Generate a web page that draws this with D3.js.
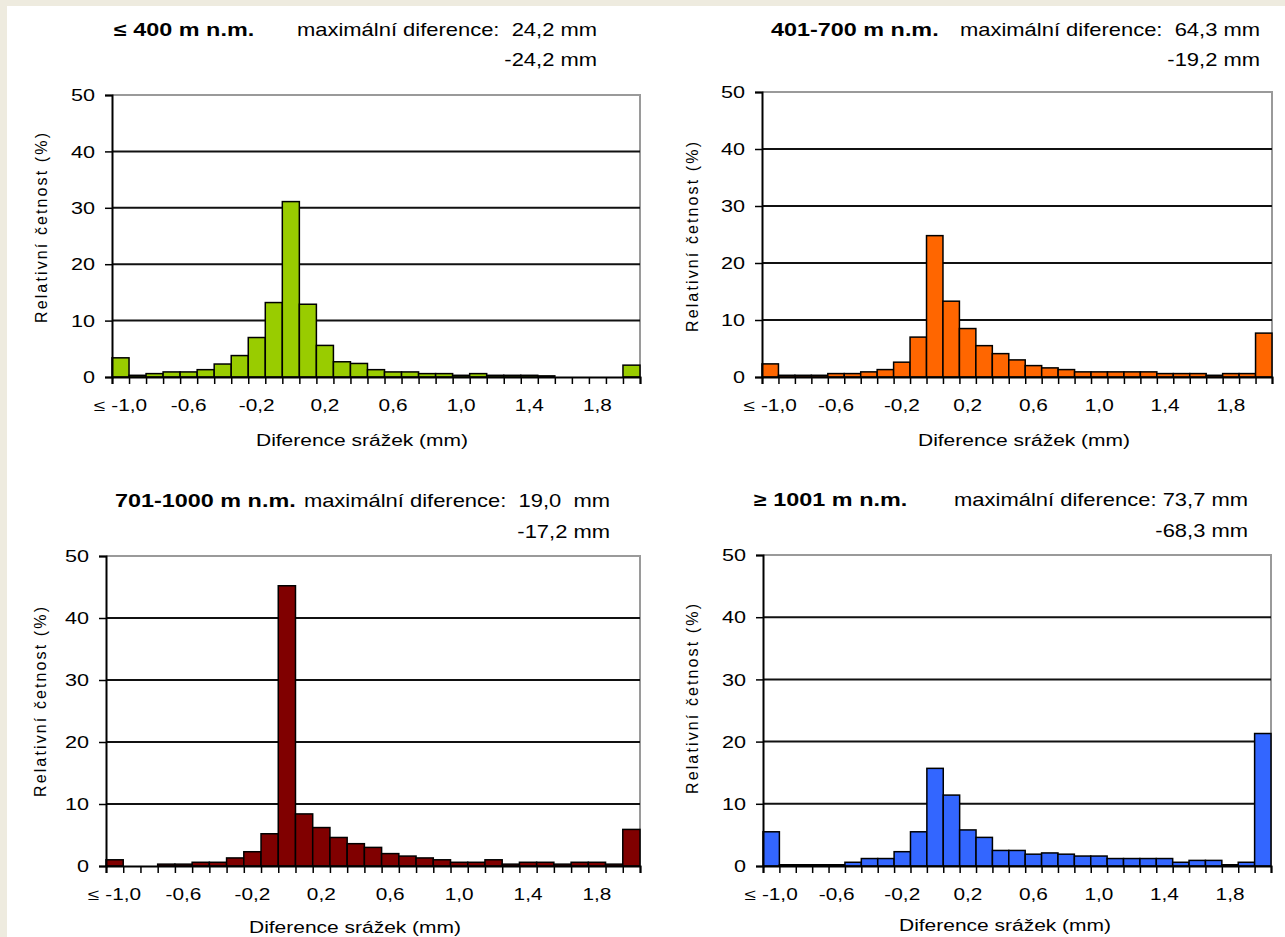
<!DOCTYPE html>
<html><head><meta charset="utf-8">
<script src="https://cdn.jsdelivr.net/npm/d3@7"></script>
<style>
body{margin:0;background:#fff}
text{font-family:"Liberation Sans",Arial,sans-serif;white-space:pre;fill:#000}
</style>
</head><body>
<svg id="c" width="1285" height="937"></svg>
<script>
// ---------------- data ----------------
const categories = ["≤ -1,0","-0,9","-0,8","-0,7","-0,6","-0,5","-0,4","-0,3","-0,2","-0,1",
  "0,0","0,1","0,2","0,3","0,4","0,5","0,6","0,7","0,8","0,9",
  "1,0","1,1","1,2","1,3","1,4","1,5","1,6","1,7","1,8","1,9","2,0"];
const tickLabels = ["≤ -1,0","-0,6","-0,2","0,2","0,6","1,0","1,4","1,8"];
const yTicks = [0,10,20,30,40,50];
const panelTitles = ["≤ 400 m n.m.","401-700 m n.m.","701-1000 m n.m.","≥ 1001 m n.m."];
const maxDiffLines = ["maximální diference:  24,2 mm","maximální diference:  64,3 mm","maximální diference:  19,0  mm","maximální diference: 73,7 mm"];
const minDiffLines = ["-24,2 mm","-19,2 mm","-17,2 mm","-68,3 mm"];
const values400  = [3.4,0.3,0.6,0.9,0.9,1.3,2.3,3.8,7.0,13.2,31.1,12.9,5.6,2.7,2.4,1.3,0.9,0.9,0.6,0.6,0.3,0.6,0.3,0.3,0.3,0.2,0,0,0,0,2.1];
const values700  = [2.3,0.3,0.3,0.3,0.6,0.6,0.9,1.3,2.6,7.0,24.8,13.3,8.5,5.5,4.1,3.0,2.0,1.6,1.3,0.9,0.9,0.9,0.9,0.9,0.6,0.6,0.6,0.3,0.6,0.6,7.7];
const values1000 = [1.0,0,0,0.3,0.3,0.6,0.6,1.3,2.3,5.2,45.2,8.4,6.2,4.6,3.6,3.0,2.0,1.6,1.3,1.0,0.6,0.6,1.0,0.3,0.6,0.6,0.3,0.6,0.6,0.3,5.9];
const values1001 = [5.5,0.2,0.2,0.2,0.2,0.6,1.2,1.2,2.3,5.5,15.7,11.4,5.8,4.6,2.5,2.5,1.9,2.1,1.9,1.6,1.6,1.2,1.2,1.2,1.2,0.6,0.9,0.9,0.2,0.6,21.3];
const seriesValues = [values400, values700, values1000, values1001];
const barColors = ["#99CC00","#FF6600","#800000","#3366FF"];
const yTitle = "Relativní četnost (%)";
const xTitle = "Diference srážek (mm)";

// ---------------- layout ----------------
const layout = [
  {l:112,t:95, r:640, b:377, tx:114, ty:36,  me:597,  my:36,  m2:66,  ylx:41,  yly:228, xlx:362,  xly:446},
  {l:762,t:92, r:1272,b:377, tx:771, ty:36,  me:1260, my:36,  m2:66,  ylx:692, yly:237, xlx:1024, xly:446},
  {l:106,t:556,r:640, b:866, tx:115, ty:507, me:610,  my:507, m2:538, ylx:40,  yly:702, xlx:355,  xly:933},
  {l:763,t:555,r:1271,b:866, tx:754, ty:506, me:1248, my:506, m2:537, ylx:692, yly:699, xlx:1005, xly:931}
];
const SX_HEAD = 1.22, SX_TITLE = 1.30, SX_TICK = 1.3;

const svg = d3.select("#c");
svg.append("rect").attr("width",1285).attr("height",937).attr("fill","#EEEBDF");
svg.append("rect").attr("x",7).attr("y",6).attr("width",1278).attr("height",931).attr("fill","#fff");

function stretchedText(g, x, y, str, sx, opts={}) {
  return g.append("text")
    .attr("transform",`translate(${x},${y}) scale(${sx},1)`)
    .attr("text-anchor", opts.anchor || "start")
    .attr("font-size", opts.size || 17)
    .attr("font-weight", opts.weight || "normal")
    .text(str);
}

layout.forEach((L, i) => {
  const g = svg.append("g");
  const vals = seriesValues[i];
  const x = d3.scaleBand().domain(categories).range([L.l, L.r]).padding(0);
  const y = d3.scaleLinear().domain([0,50]).range([L.b, L.t]);
  const xb = d3.scaleLinear().domain([0, categories.length]).range([L.l, L.r]);

  g.append("path")
    .attr("d", `M${L.l},${L.t}H${L.r}V${L.b}`)
    .attr("fill","none").attr("stroke","#9a9a9a").attr("stroke-width",2);

  g.selectAll("line.grid").data(yTicks.filter(v => v > 0 && v < 50)).join("line")
    .attr("x1", L.l).attr("x2", L.r)
    .attr("y1", d => y(d)).attr("y2", d => y(d))
    .attr("stroke","#111").attr("stroke-width",2);

  g.selectAll("rect.bar").data(vals).join("rect")
    .attr("x", (d,j) => x(categories[j]))
    .attr("width", x.bandwidth())
    .attr("y", d => y(d))
    .attr("height", d => y(0) - y(d))
    .attr("fill", barColors[i])
    .attr("stroke","#000").attr("stroke-width",1.5);

  const ya = g.append("g").attr("transform",`translate(${L.l},0)`)
    .call(d3.axisLeft(y).tickValues(yTicks).tickSize(7).tickFormat(d3.format("d")));
  ya.select(".domain").attr("stroke","#000").attr("stroke-width",2);
  ya.selectAll(".tick line").attr("stroke","#000").attr("stroke-width",1.5);
  ya.selectAll(".tick text")
    .attr("x", null).attr("dy", "0.35em")
    .attr("transform","translate(-17,0) scale(1.35,1)")
    .attr("font-size",16).attr("font-family",null);

  const xa = g.append("g").attr("transform",`translate(0,${L.b})`)
    .call(d3.axisBottom(xb).tickValues(d3.range(categories.length+1)).tickSize(7).tickFormat(""));
  xa.select(".domain").attr("stroke","#000").attr("stroke-width",2);
  xa.selectAll(".tick line").attr("stroke","#000").attr("stroke-width",1.5);

  const xl = g.append("g").attr("transform",`translate(0,${L.b})`)
    .call(d3.axisBottom(x).tickValues(tickLabels).tickSize(0));
  xl.select(".domain").remove();
  xl.selectAll(".tick text")
    .attr("y", null).attr("dy", null)
    .attr("transform",`translate(0,34) scale(${SX_TICK},1)`)
    .attr("font-size",16).attr("font-family",null);

  g.append("text")
    .attr("transform",`translate(${L.ylx},${L.yly}) rotate(-90)`)
    .attr("text-anchor","middle").attr("dy","0.35em")
    .attr("font-size",16)
    .attr("textLength",190).attr("lengthAdjust","spacing")
    .text(yTitle);
  g.append("text")
    .attr("x", L.xlx).attr("y", L.xly)
    .attr("text-anchor","middle")
    .attr("font-size",16)
    .attr("textLength",212).attr("lengthAdjust","spacingAndGlyphs")
    .text(xTitle);

  stretchedText(g, L.tx, L.ty, panelTitles[i], SX_TITLE, {weight:"bold", size:18});
  stretchedText(g, L.me, L.my, maxDiffLines[i], SX_HEAD, {anchor:"end", size:18});
  stretchedText(g, L.me, L.m2, minDiffLines[i], SX_HEAD, {anchor:"end", size:18});
});
</script>
</body></html>
